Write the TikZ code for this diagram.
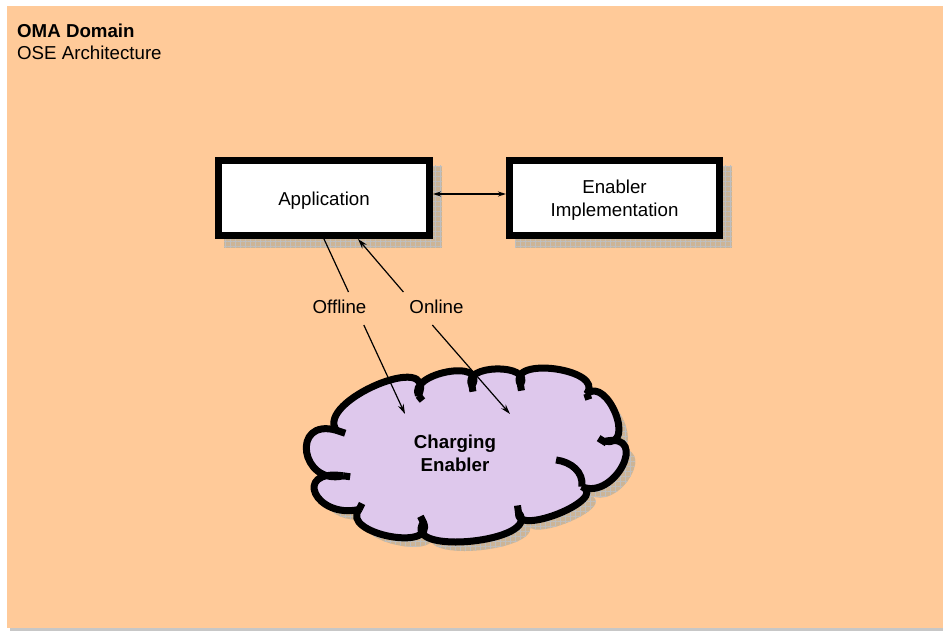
\documentclass[tikz,border=0pt]{standalone}
\usepackage{fontspec}
\setmainfont{Liberation Sans}
\usetikzlibrary{arrows.meta,patterns.meta}
\definecolor{peach}{RGB}{255,202,153}
\definecolor{lav}{RGB}{222,200,236}
\definecolor{shtan}{RGB}{204,180,150}
\pgfdeclarelayer{bglayer}
\pgfdeclarelayer{shlayer}
\pgfsetlayers{bglayer,shlayer,main}
\begin{document}
\begin{tikzpicture}[x=1pt,y=-1pt,
  txt/.style={font=\fontsize{18.7}{23}\selectfont, inner sep=0pt},
  box/.style={draw=black, line width=7pt, fill=white, minimum width=211pt, minimum height=75pt, inner sep=0pt},
  shad/.style={preaction={fill=shtan}, pattern={Hatch[angle=0,distance=5pt,line width=0.4pt]}, pattern color=black!25},
  thin/.style={line width=1.2pt},
  endtip/.style={-{Stealth[length=10pt,width=6pt]}},
  starttip/.style={{Stealth[length=10pt,width=6pt]}-},
  cloudp/.style={insert path={(335,430) .. controls (313.6,400.8) and (438.1,348.3) .. (418,395)
    .. controls (407.2,372.2) and (488.2,357.2) .. (472,385)
    .. controls (460.4,363.3) and (533.9,361.8) .. (521,384)
    .. controls (506.25,354.45) and (606.75,367.95) .. (588,393)
    .. controls (609.25,375.67) and (637.75,447.67) .. (607,441)
    .. controls (651.67,432.17) and (615.67,501.17) .. (583,487)
    .. controls (611,499.17) and (515,538.17) .. (519,513)
    .. controls (544.33,542.5) and (400.33,557.5) .. (423,523)
    .. controls (435.92,553.58) and (338.42,534.08) .. (358,510)
    .. controls (314,519.83) and (290,468.83) .. (342,476)
    .. controls (299.08,486.17) and (288.58,417.17) .. (335,430) -- cycle}},
  cloudscale/.style={shift={(466,455)}, xscale=0.99, yscale=0.99, shift={(-466,-455)}}
]
\useasboundingbox (0,0) rectangle (943,631);
\begin{pgfonlayer}{bglayer}
  \fill[white] (0,0) rectangle (943,631);
  \fill[peach] (7,6) rectangle (943,628);
  \fill[black!22] (10,628) rectangle (943,631);
\end{pgfonlayer}

% title
\node[txt, anchor=base west, font=\fontsize{18.7}{23}\selectfont\bfseries] (t1) at (17,38) {OMA Domain};
\node[txt, anchor=base west] (t2) at (17,60) {OSE Architecture};

% boxes
\node[box] (app) at (324,198) {};
\node[box, minimum width=210pt] (enab) at (614.5,198) {};
\node[txt, anchor=base] (apptxt) at (324,206) {Application};
\node[txt, align=center] (enabtxt) at (614.5,200.6) {Enabler\\Implementation};

\begin{pgfonlayer}{shlayer}
  \fill[shad] ([shift={(9,9)}]app.north west) rectangle ([shift={(9,9)}]app.south east);
  \fill[shad] ([shift={(9,9)}]enab.north west) rectangle ([shift={(9,9)}]enab.south east);
  \begin{scope}[shift={(9,9)}]
    \begin{scope}[cloudscale]
      \path[shad, cloudp];
    \end{scope}
  \end{scope}
\end{pgfonlayer}

% cloud
\begin{scope}[cloudscale]
  \path[fill=lav, draw=black, line width=7pt, line join=bevel, cloudp];
  \begin{scope}[line width=7pt, line cap=butt]
    \draw (335,430) -- (344,433);
    \draw (418,395) -- (422,400);
    \draw (472,385) -- (473,391);
    \draw (521,384) -- (522,390);
    \draw (588,393) -- (590,399);
    \draw (608,443) -- (600,438);
    \draw (583,487) .. controls (585,472) and (572,462) .. (557,460);
    \draw (519,513) -- (518,506);
    \draw (423,523) -- (420,517);
    \draw (358,510) -- (361,504);
    \draw (342,476) -- (349,477);
  \end{scope}
\end{scope}
\node[txt, align=center, font=\fontsize{18.7}{23}\selectfont\bfseries] (cloudtxt) at (455,453.7) {Charging\\Enabler};

% connectors
\draw[thin, {Stealth[length=8pt,width=5pt]}-{Stealth[length=8pt,width=5pt]}] ([yshift=4pt]app.east) -- ([yshift=4pt]enab.west);

\coordinate (offA) at (348.5,292);
\coordinate (offB) at (363.8,325);
\coordinate (offC) at (405,414);
\draw[thin] (app.south) -- (offA);
\draw[thin, endtip] (offB) -- (offC);
\node[txt, anchor=base] (offl) at (339.5,313) {Offline};

\coordinate (onA) at (403.4,292);
\coordinate (onB) at (432.3,325);
\coordinate (onC) at (510,414);
\draw[thin, starttip] ([xshift=34pt]app.south) -- (onA);
\draw[thin, endtip] (onB) -- (onC);
\node[txt, anchor=base] (onl) at (436.5,313) {Online};
\end{tikzpicture}
\end{document}
